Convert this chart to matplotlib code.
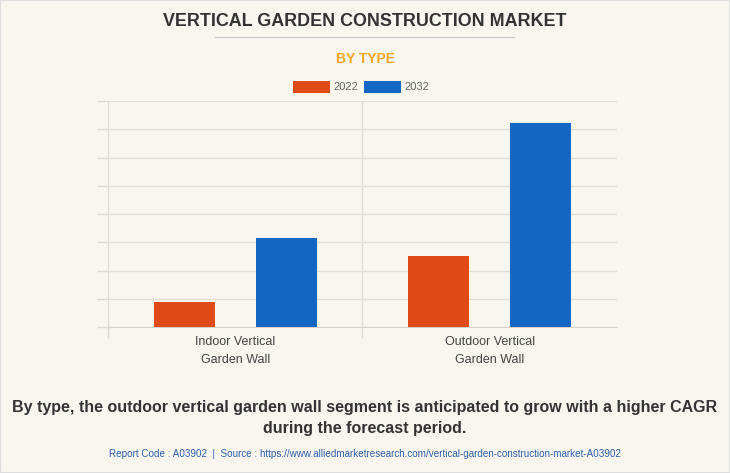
import matplotlib
matplotlib.use("Agg")
import matplotlib.pyplot as plt
from matplotlib.patches import Rectangle
from matplotlib.lines import Line2D

categories = ["Indoor Vertical\nGarden Wall", "Outdoor Vertical\nGarden Wall"]
series_names = ["2022", "2032"]
values_2022 = [0.89, 2.52]
values_2032 = [3.14, 7.21]
colors = ["#E04A16", "#1267C2"]

W, H = 730, 473
bg = "#F9F6EF"
fig = plt.figure(figsize=(W / 100, H / 100), dpi=100, facecolor=bg)

sans = ["Liberation Sans", "DejaVu Sans"]

def px(x, y):
    return x / W, 1 - y / H

# border
fig.patches.append(Rectangle((0, 0), 1, 1, transform=fig.transFigure, fill=False,
                             edgecolor="#DDDDDD", linewidth=1.5))

fig.text(*px(365, 21), "VERTICAL GARDEN CONSTRUCTION MARKET", ha="center", va="center",
         fontsize=12.9, fontweight="bold", color="#333333", family=sans)
fig.add_artist(Line2D([215 / W, 514 / W], [1 - 37 / H, 1 - 37 / H], transform=fig.transFigure,
                      color="#CCCCCC", linewidth=1))
fig.text(*px(365, 59), "BY TYPE", ha="center", va="center",
         fontsize=10, fontweight="bold", color="#F5A623", family=sans)

# legend
for i, (name, c) in enumerate(zip(series_names, colors)):
    x0 = 293 + i * 71
    fig.patches.append(Rectangle((x0 / W, 1 - 93.5 / H), 37 / W, 12.5 / H,
                                 transform=fig.transFigure, facecolor=c, edgecolor="none"))
    fig.text((x0 + 40) / W, 1 - 87 / H, name, ha="left", va="center", fontsize=8,
             color="#666666", family=sans)

left, right, top, bottom = 108, 617, 101, 327.3
ax = fig.add_axes([left / W, 1 - bottom / H, (right - left) / W, (bottom - top) / H])
ax.set_facecolor(bg)
x = list(range(len(categories)))
bw = 0.24
ax.bar([i - 0.2 for i in x], values_2022, width=bw, color=colors[0], zorder=3)
ax.bar([i + 0.2 for i in x], values_2032, width=bw, color=colors[1], zorder=3)
ax.set_xlim(-0.5, len(categories) - 0.5)
ax.set_ylim(0, 8)
ax.set_yticks(range(0, 9))
ax.set_yticklabels([])
ax.tick_params(axis="y", length=8, color="#DDDAD2", width=1)
ax.grid(axis="y", color="#E2DFD7", linewidth=1, zorder=0)
ax.set_xticks(x)
ax.set_xticklabels(categories, fontsize=9, color="#444444", family=sans, linespacing=1.75)
ax.tick_params(axis="x", length=0, pad=6)
ax.set_xticks([-0.5, 0.5], minor=True)
ax.tick_params(axis="x", which="minor", length=8, color="#DDDAD2", width=1)
ax.axvline(0.5, color="#E2DFD7", linewidth=1, zorder=0)
for s in ["top", "right"]:
    ax.spines[s].set_visible(False)
ax.spines["left"].set_color("#DDDAD2")
ax.spines["bottom"].set_color("#D5D2CA")

fig.text(*px(365, 407), "By type, the outdoor vertical garden wall segment is anticipated to grow with a higher CAGR",
         ha="center", va="center", fontsize=11.55, fontweight="bold", color="#333333", family=sans)
fig.text(*px(365, 429), "during the forecast period.",
         ha="center", va="center", fontsize=11.55, fontweight="bold", color="#333333", family=sans)
fig.text(*px(365, 454), "Report Code : A03902  |  Source : https://www.alliedmarketresearch.com/vertical-garden-construction-market-A03902",
         ha="center", va="center", fontsize=7.15, color="#2D5FAA", family=sans)

fig.savefig("out.png", dpi=100, facecolor=bg)
